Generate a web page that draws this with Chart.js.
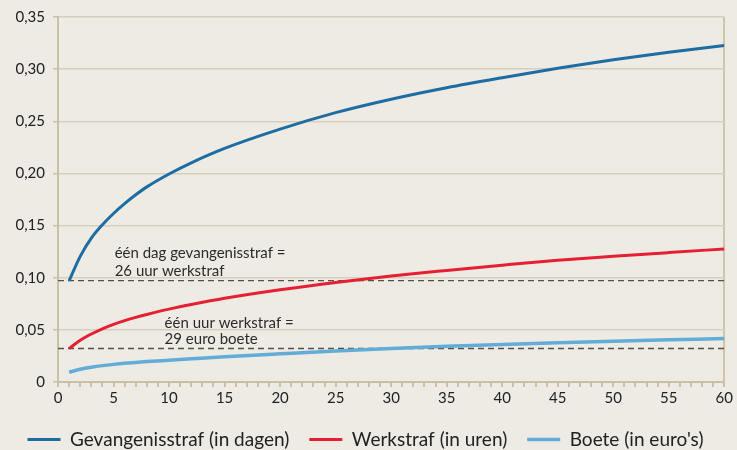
<!DOCTYPE html>
<html>
<head>
<meta charset="utf-8">
<script src="https://cdn.jsdelivr.net/npm/chart.js@4"></script>
<style>
  html, body { margin: 0; padding: 0; background: #eeebe4; }
  #wrap { width: 737px; height: 450px; }
</style>
</head>
<body>
<div id="wrap"><canvas id="strafChart" width="737" height="450"></canvas></div>
<script>
// waarden
const xValues = [1, 2, 3, 4, 5, 6, 7, 8, 10, 12, 15, 20, 25, 30, 35, 40, 45, 50, 55, 60];
const gevangenis = [0.097, 0.1205, 0.138, 0.1508, 0.1616, 0.171, 0.1795, 0.1871, 0.1995, 0.2102, 0.224, 0.2425, 0.2583, 0.2712, 0.2822, 0.2918, 0.3008, 0.309, 0.3162, 0.3227];
const werkstraf = [0.032, 0.040, 0.046, 0.051, 0.0552, 0.0588, 0.0620, 0.0648, 0.0699, 0.0743, 0.0803, 0.0885, 0.0955, 0.1017, 0.1070, 0.1120, 0.1167, 0.1205, 0.1241, 0.1276];
const boete = [0.0094, 0.0122, 0.0142, 0.0157, 0.0169, 0.0179, 0.0188, 0.0196, 0.0209, 0.0222, 0.0241, 0.027, 0.0298, 0.0322, 0.0342, 0.036, 0.0376, 0.0391, 0.0404, 0.0417];

const seriesLabels = ['Gevangenisstraf (in dagen)', 'Werkstraf (in uren)', "Boete (in euro's)"];

// horizontale hulplijnen (gelijkwaardigheid)
const refX = [0, 60];
const refDag = 0.0972;
const refUur = 0.0321;

// tekstjes bij de hulplijnen, in data-coördinaten
const notes = [
  { x: 5.1, y: 0.124, text: 'één dag gevangenisstraf =' },
  { x: 5.1, y: 0.106, text: '26 uur werkstraf' },
  { x: 9.6, y: 0.0567, text: 'één uur werkstraf =' },
  { x: 9.6, y: 0.0407, text: '29 euro boete' }
];

const FONT = 'Lato, "Open Sans", sans-serif';
const toPoints = (arr) => xValues.map((x, i) => ({ x: x, y: arr[i] }));

const notesPlugin = {
  id: 'notes',
  afterDatasetsDraw(chart) {
    const ctx = chart.ctx;
    const xs = chart.scales.x;
    const ys = chart.scales.y;
    ctx.save();
    ctx.font = '15px ' + FONT;
    ctx.fillStyle = '#2b2b2b';
    ctx.textAlign = 'left';
    ctx.textBaseline = 'middle';
    notes.forEach(n => {
      ctx.fillText(n.text, xs.getPixelForValue(n.x), ys.getPixelForValue(n.y));
    });
    ctx.restore();
  }
};

const ctx = document.getElementById('strafChart');

new Chart(ctx, {
  type: 'line',
  data: {
    datasets: [{
      label: seriesLabels[0],
      data: toPoints(gevangenis),
      borderColor: '#1d6da3',
      backgroundColor: '#1d6da3',
      borderWidth: 3,
      pointRadius: 0,
      cubicInterpolationMode: 'monotone'
    }, {
      label: seriesLabels[1],
      data: toPoints(werkstraf),
      borderColor: '#e61f33',
      backgroundColor: '#e61f33',
      borderWidth: 3,
      pointRadius: 0,
      cubicInterpolationMode: 'monotone'
    }, {
      label: seriesLabels[2],
      data: toPoints(boete),
      borderColor: '#63acd7',
      backgroundColor: '#63acd7',
      borderWidth: 3.5,
      pointRadius: 0,
      cubicInterpolationMode: 'monotone'
    }, {
      label: 'dag',
      data: refX.map(x => ({ x: x, y: refDag })),
      borderColor: '#55504a',
      borderWidth: 1.3,
      borderDash: [6, 4],
      pointRadius: 0
    }, {
      label: 'uur',
      data: refX.map(x => ({ x: x, y: refUur })),
      borderColor: '#55504a',
      borderWidth: 1.3,
      borderDash: [6, 4],
      pointRadius: 0
    }]
  },
  options: {
    responsive: false,
    animation: false,
    layout: {
      padding: { top: 10, right: 6, left: 0, bottom: -9 }
    },
    plugins: {
      legend: {
        position: 'bottom',
        labels: {
          filter: (item) => item.datasetIndex < 3,
          usePointStyle: true,
          pointStyle: 'line',
          pointStyleWidth: 33,
          color: '#222',
          padding: 20,
          font: { family: FONT, size: 19 }
        }
      },
      tooltip: { enabled: false }
    },
    scales: {
      x: {
        type: 'linear',
        min: 0,
        max: 60,
        ticks: {
          stepSize: 1,
          autoSkip: false,
          maxRotation: 0,
          minRotation: 0,
          padding: 4,
          color: '#222',
          font: { family: FONT, size: 15, lineHeight: 1 },
          callback: (v) => (v % 5 === 0 ? v : '')
        },
        grid: {
          color: (c) => (c.tick && c.tick.value === 60 ? '#cfc3ac' : 'rgba(0,0,0,0)'),
          tickColor: '#cbbfa8',
          tickLength: 5,
          lineWidth: 2
        },
        border: { color: '#cbbfa8', width: 2 }
      },
      y: {
        min: 0,
        max: 0.35,
        ticks: {
          stepSize: 0.05,
          color: '#222',
          padding: 8,
          font: { family: FONT, size: 15 },
          callback: (v) => (v === 0 ? '0' : v.toFixed(2).replace('.', ','))
        },
        grid: {
          color: '#d8cebc',
          tickColor: '#cbbfa8',
          tickLength: 5,
          lineWidth: 1.5
        },
        border: { color: '#cbbfa8', width: 2 },
        afterFit: (scale) => { scale.width = 58; }
      }
    }
  },
  plugins: [notesPlugin]
});
</script>
</body>
</html>
